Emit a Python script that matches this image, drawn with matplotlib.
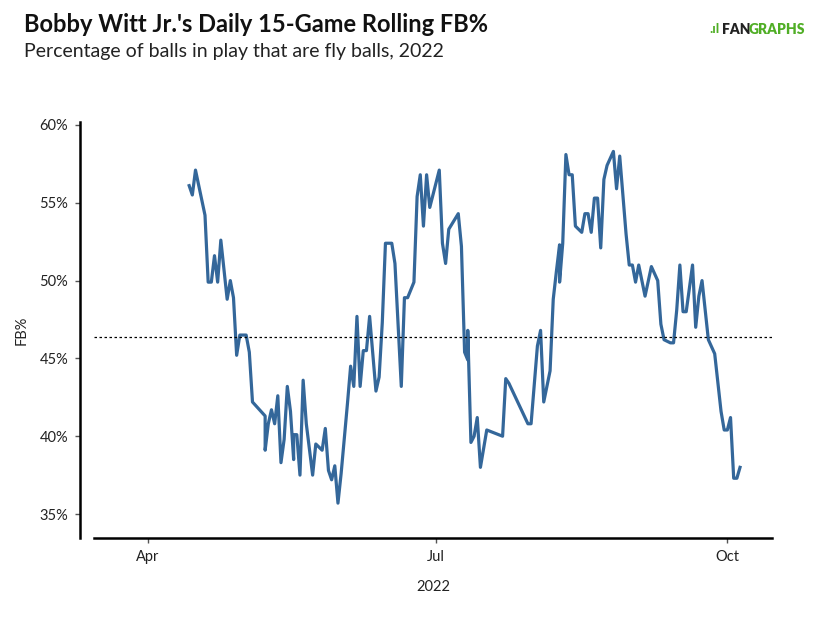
import matplotlib
matplotlib.use('Agg')
import matplotlib.pyplot as plt
import matplotlib.dates as mdates
import matplotlib.ticker as mticker
import pandas as pd

plt.rcParams['font.family'] = ['Lato', 'DejaVu Sans']

# 15-game rolling FB% (repeated dates are doubleheaders)
dates = [
    '2022-04-14', '2022-04-15', '2022-04-16', '2022-04-19', '2022-04-20',
    '2022-04-21', '2022-04-22', '2022-04-23', '2022-04-24', '2022-04-26',
    '2022-04-27', '2022-04-28', '2022-04-29', '2022-04-30', '2022-05-02',
    '2022-05-03', '2022-05-04', '2022-05-08', '2022-05-08', '2022-05-09',
    '2022-05-10', '2022-05-11', '2022-05-12', '2022-05-13', '2022-05-14',
    '2022-05-15', '2022-05-16', '2022-05-17', '2022-05-17', '2022-05-18',
    '2022-05-19', '2022-05-20', '2022-05-21', '2022-05-23', '2022-05-24',
    '2022-05-26', '2022-05-27', '2022-05-28', '2022-05-29', '2022-05-30',
    '2022-05-31', '2022-06-01', '2022-06-03', '2022-06-04', '2022-06-05',
    '2022-06-06', '2022-06-07', '2022-06-08', '2022-06-09', '2022-06-10',
    '2022-06-12', '2022-06-13', '2022-06-14', '2022-06-15', '2022-06-17',
    '2022-06-18', '2022-06-20', '2022-06-21', '2022-06-22', '2022-06-24',
    '2022-06-25', '2022-06-26', '2022-06-27', '2022-06-28', '2022-06-29',
    '2022-07-02', '2022-07-03', '2022-07-04', '2022-07-05', '2022-07-08',
    '2022-07-09', '2022-07-10', '2022-07-11', '2022-07-11', '2022-07-12',
    '2022-07-13', '2022-07-14', '2022-07-15', '2022-07-17', '2022-07-22',
    '2022-07-23', '2022-07-24', '2022-07-30', '2022-07-31', '2022-08-02',
    '2022-08-03', '2022-08-04', '2022-08-06', '2022-08-07', '2022-08-08',
    '2022-08-09', '2022-08-09', '2022-08-10', '2022-08-11', '2022-08-12',
    '2022-08-13', '2022-08-14', '2022-08-16', '2022-08-17', '2022-08-18',
    '2022-08-19', '2022-08-20', '2022-08-21', '2022-08-22', '2022-08-23',
    '2022-08-24', '2022-08-26', '2022-08-27', '2022-08-28', '2022-08-30',
    '2022-08-31', '2022-09-01', '2022-09-02', '2022-09-03', '2022-09-05',
    '2022-09-07', '2022-09-09', '2022-09-10', '2022-09-11', '2022-09-13',
    '2022-09-14', '2022-09-15', '2022-09-16', '2022-09-17', '2022-09-18',
    '2022-09-20', '2022-09-21', '2022-09-22', '2022-09-23', '2022-09-25',
    '2022-09-27', '2022-09-29', '2022-09-30', '2022-10-01', '2022-10-02',
    '2022-10-03', '2022-10-04', '2022-10-05',
]
fb_pct = [
    56.1, 55.5, 57.1, 54.2, 49.9,
    49.9, 51.6, 49.9, 52.6, 48.8,
    50.0, 48.9, 45.2, 46.5, 46.5,
    45.4, 42.2, 41.3, 39.1, 40.8,
    41.7, 40.8, 42.6, 38.3, 39.8,
    43.2, 41.6, 38.5, 40.1, 40.1,
    37.5, 43.6, 40.8, 37.5, 39.5,
    39.1, 40.5, 37.8, 37.2, 38.1,
    35.7, 37.6, 42.1, 44.5, 43.2,
    47.7, 43.2, 45.5, 45.5, 47.7,
    42.9, 43.8, 47.3, 52.4, 52.4,
    51.1, 43.2, 48.9, 48.9, 49.9,
    55.4, 56.8, 53.5, 56.8, 54.7,
    57.1, 52.4, 51.1, 53.3, 54.3,
    52.2, 45.4, 44.9, 46.8, 39.6,
    40.0, 41.2, 38.0, 40.4, 40.0,
    43.7, 43.4, 40.8, 40.8, 45.8,
    46.8, 42.2, 44.2, 48.8, 50.6,
    52.3, 49.9, 52.4, 58.1, 56.8,
    56.8, 53.5, 53.1, 54.3, 54.3,
    53.1, 55.3, 55.3, 52.1, 56.5,
    57.4, 58.3, 55.9, 58.0, 53.0,
    51.0, 51.0, 49.9, 51.0, 49.0,
    50.9, 50.0, 47.2, 46.2, 46.0,
    46.0, 48.1, 51.0, 48.0, 48.0,
    51.0, 47.0, 49.0, 50.0, 46.2,
    45.3, 41.6, 40.4, 40.4, 41.2,
    37.3, 37.3, 38.0,
]
season_avg = 46.4

x = pd.to_datetime(dates)

fig = plt.figure(figsize=(8.23, 6.24), dpi=100)
ax = fig.add_axes([94 / 823, 1 - 538 / 624, (772 - 94) / 823, (538 - 122) / 624])

ax.plot(x, fb_pct, color='#34679a', linewidth=2.3, solid_joinstyle='round')
ax.axhline(season_avg, color='black', linewidth=0.9, linestyle=(0, (2, 2)))

apr1 = pd.Timestamp('2022-04-01')
ax.set_xlim(apr1 + pd.Timedelta(days=-17.06), apr1 + pd.Timedelta(days=197.1))
ax.set_ylim(33.46, 60.19)

ax.set_xticks(pd.to_datetime(['2022-04-01', '2022-07-01', '2022-10-01']))
ax.xaxis.set_major_formatter(mdates.DateFormatter('%b'))
ax.set_yticks([35, 40, 45, 50, 55, 60])
ax.yaxis.set_major_formatter(mticker.FuncFormatter(lambda v, p: f'{v:.0f}%'))

for side in ['top', 'right']:
    ax.spines[side].set_visible(False)
ax.spines['left'].set_position(('outward', 10))
ax.spines['left'].set_linewidth(1.8)
ax.spines['bottom'].set_linewidth(1.8)
ax.tick_params(axis='both', length=3.5, width=1, color='#555555',
               labelsize=10.5, labelcolor='#222222', pad=5)

ax.set_ylabel('FB%', fontsize=10.5, color='#222222', labelpad=8)
ax.set_xlabel('2022', fontsize=10.5, color='#222222', labelpad=12)

fig.text(24 / 823, 1 - 25 / 624, "Bobby Witt Jr.'s Daily 15-Game Rolling FB%",
         fontsize=17, fontweight='bold', color='#111111', va='center')
fig.text(24 / 823, 1 - 52 / 624, 'Percentage of balls in play that are fly balls, 2022',
         fontsize=14, color='#222222', va='center')

# FanGraphs logo as text
fig.text(709 / 823, 1 - 29 / 624, '.ıl', fontsize=10, fontweight='bold',
         color='#50ae26', va='center')
fig.text(722 / 823, 1 - 29 / 624, 'FAN', fontsize=10, fontweight='heavy',
         color='#222222', va='center')
fig.text(749 / 823, 1 - 29 / 624, 'GRAPHS', fontsize=10, fontweight='heavy',
         color='#50ae26', va='center')

plt.savefig('out.png', dpi=100)
